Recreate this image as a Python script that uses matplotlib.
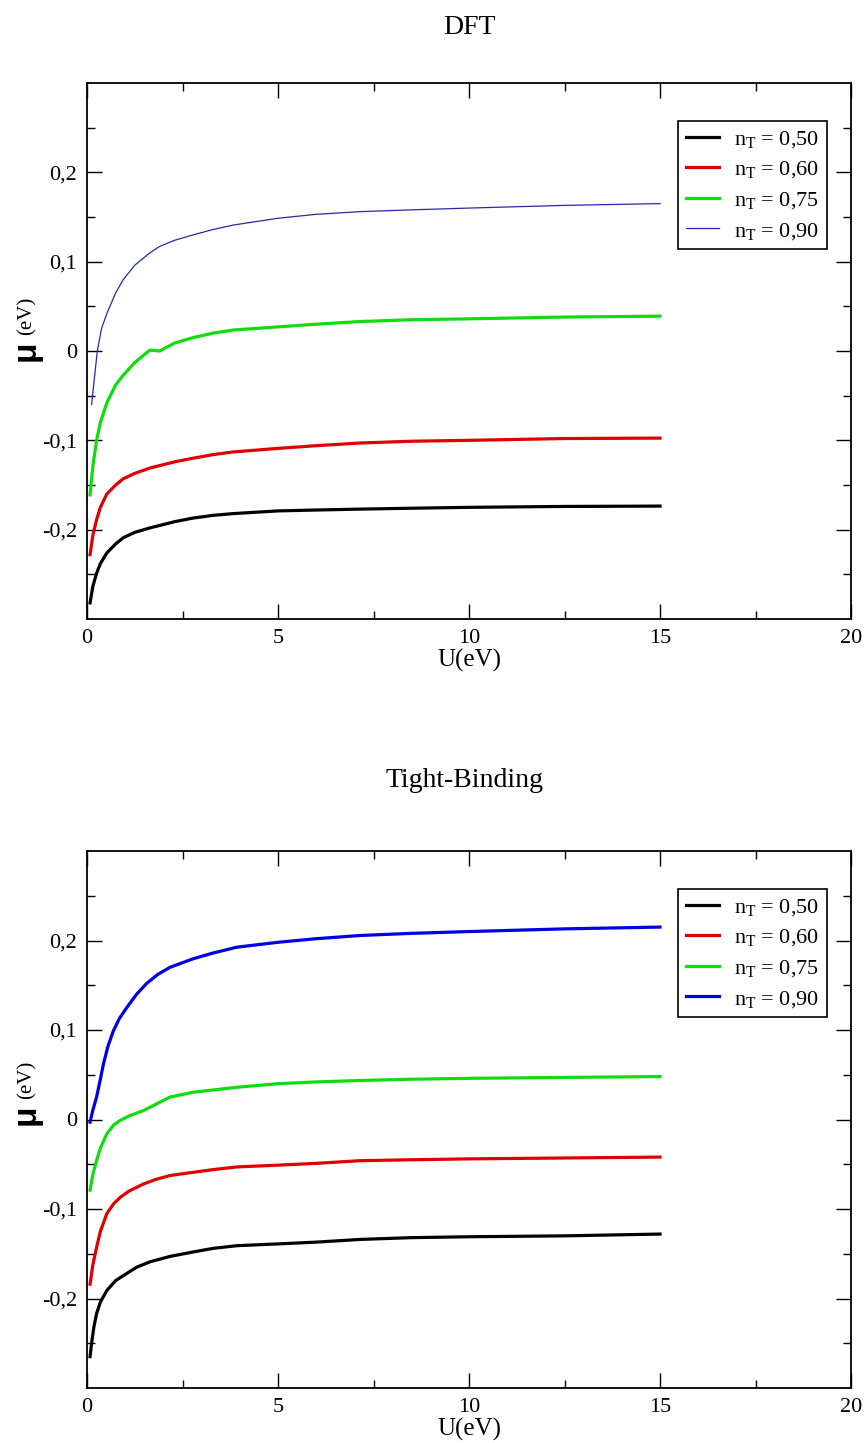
import matplotlib
matplotlib.use("Agg")
import matplotlib.pyplot as plt
from matplotlib.ticker import FixedLocator, FixedFormatter

plt.rcParams['font.family'] = ['Liberation Serif', 'DejaVu Serif']
plt.rcParams['mathtext.fontset'] = 'custom'
plt.rcParams['mathtext.rm'] = 'Liberation Serif'
plt.rcParams['mathtext.it'] = 'Liberation Serif:italic'

# ---------------- data ----------------
legend_labels = ['n$_\\mathrm{T}$ = 0,50', 'n$_\\mathrm{T}$ = 0,60',
                 'n$_\\mathrm{T}$ = 0,75', 'n$_\\mathrm{T}$ = 0,90']

# DFT panel
dft_u_050 = [0.08, 0.15, 0.25, 0.35, 0.52, 0.75, 0.95, 1.25, 1.65, 2.3, 2.78, 3.3, 3.83, 5.0, 6.0, 7.15, 8.5, 10.0, 12.5, 15.0]
dft_mu_050 = [-0.282, -0.264, -0.249, -0.238, -0.226, -0.216, -0.209, -0.203, -0.198, -0.191, -0.187, -0.184, -0.182, -0.179, -0.178, -0.177, -0.176, -0.175, -0.174, -0.1736]
dft_u_060 = [0.08, 0.15, 0.25, 0.35, 0.52, 0.75, 0.95, 1.25, 1.65, 2.3, 2.78, 3.3, 3.83, 5.0, 6.0, 7.15, 8.5, 10.0, 12.5, 15.0]
dft_mu_060 = [-0.228, -0.207, -0.189, -0.175, -0.160, -0.150, -0.143, -0.137, -0.131, -0.124, -0.120, -0.116, -0.113, -0.109, -0.106, -0.103, -0.101, -0.100, -0.098, -0.0975]
dft_u_075 = [0.08, 0.15, 0.25, 0.35, 0.52, 0.75, 0.95, 1.25, 1.5, 1.65, 1.9, 2.3, 2.78, 3.3, 3.83, 5.0, 6.0, 7.15, 8.5, 10.0, 12.5, 15.0]
dft_mu_075 = [-0.161, -0.130, -0.100, -0.080, -0.058, -0.038, -0.027, -0.013, -0.004, 0.001, 0.000, 0.009, 0.015, 0.020, 0.0235, 0.027, 0.030, 0.033, 0.035, 0.036, 0.038, 0.039]
dft_u_090 = [0.12, 0.2, 0.27, 0.38, 0.52, 0.75, 0.95, 1.25, 1.65, 1.9, 2.3, 2.78, 3.3, 3.83, 5.0, 6.0, 7.15, 8.5, 10.0, 12.5, 15.0]
dft_mu_090 = [-0.060, -0.028, 0.000, 0.025, 0.042, 0.065, 0.080, 0.096, 0.110, 0.117, 0.124, 0.130, 0.136, 0.141, 0.1486, 0.153, 0.156, 0.158, 0.160, 0.163, 0.165]

# Tight-Binding panel
tb_u_050 = [0.08, 0.12, 0.18, 0.25, 0.35, 0.52, 0.75, 1.04, 1.3, 1.65, 2.17, 2.78, 3.3, 3.92, 5.0, 6.0, 7.15, 8.5, 10.0, 12.5, 15.0]
tb_mu_050 = [-0.265, -0.250, -0.232, -0.217, -0.204, -0.191, -0.180, -0.172, -0.165, -0.159, -0.153, -0.148, -0.144, -0.141, -0.139, -0.137, -0.134, -0.132, -0.131, -0.130, -0.128]
tb_u_060 = [0.08, 0.15, 0.25, 0.35, 0.52, 0.7, 0.87, 1.1, 1.48, 1.8, 2.17, 2.78, 3.3, 3.92, 5.0, 6.0, 7.15, 8.5, 10.0, 12.5, 15.0]
tb_mu_060 = [-0.184, -0.163, -0.143, -0.125, -0.105, -0.094, -0.087, -0.080, -0.072, -0.067, -0.0626, -0.059, -0.056, -0.053, -0.051, -0.049, -0.046, -0.045, -0.044, -0.043, -0.042]
tb_u_075 = [0.08, 0.15, 0.25, 0.35, 0.52, 0.7, 0.87, 1.1, 1.48, 1.8, 2.17, 2.78, 3.3, 3.92, 5.0, 6.0, 7.15, 8.5, 10.0, 12.5, 15.0]
tb_mu_075 = [-0.079, -0.062, -0.046, -0.032, -0.016, -0.006, -0.001, 0.004, 0.010, 0.017, 0.025, 0.0305, 0.033, 0.036, 0.040, 0.042, 0.0436, 0.045, 0.046, 0.047, 0.048]
tb_u_090 = [0.08, 0.15, 0.25, 0.35, 0.43, 0.55, 0.69, 0.85, 1.04, 1.3, 1.56, 1.85, 2.17, 2.78, 3.3, 3.92, 5.0, 6.0, 7.15, 8.5, 10.0, 12.5, 15.0]
tb_mu_090 = [-0.003, 0.010, 0.025, 0.045, 0.062, 0.082, 0.099, 0.113, 0.125, 0.140, 0.152, 0.162, 0.170, 0.1796, 0.186, 0.1925, 0.198, 0.202, 0.2056, 0.208, 0.210, 0.213, 0.215]

x_major = [0, 5, 10, 15, 20]
x_major_labels = ['0', '5', '10', '15', '20']
x_minor = [2.5, 7.5, 12.5, 17.5]
y_major = [-0.2, -0.1, 0.0, 0.1, 0.2]
y_major_labels = ['-0,2', '-0,1', '0', '0,1', '0,2']
y_minor = [-0.25, -0.15, -0.05, 0.05, 0.15, 0.25]

colors = ['#000000', '#e00000', '#10dd10', '#0000e0']
colors_dft = ['#000000', '#e00000', '#10dd10', '#2a2aa8']
widths_dft = [2.3, 2.3, 2.3, 0.9]
widths_tb = [2.3, 2.3, 2.3, 2.3]

W, H = 868, 1443
fig = plt.figure(figsize=(W / 100, H / 100), dpi=100)

def px_axes(left, top, right, bottom):
    return [left / W, 1 - bottom / H, (right - left) / W, (bottom - top) / H]

def style(ax):
    ax.set_xlim(0, 20)
    ax.set_ylim(-0.3, 0.3)
    ax.xaxis.set_major_locator(FixedLocator(x_major))
    ax.xaxis.set_major_formatter(FixedFormatter(x_major_labels))
    ax.xaxis.set_minor_locator(FixedLocator(x_minor))
    ax.yaxis.set_major_locator(FixedLocator(y_major))
    ax.yaxis.set_major_formatter(FixedFormatter(y_major_labels))
    ax.yaxis.set_minor_locator(FixedLocator(y_minor))
    ax.tick_params(which='both', direction='in', top=True, right=True, width=1.0, colors='black')
    ax.tick_params(which='major', length=11, labelsize=16, pad=7)
    ax.tick_params(which='minor', length=5.5)
    for s in ax.spines.values():
        s.set_linewidth(1.3)
    ax.set_xlabel('U(eV)', fontsize=18, labelpad=1)

def legend(ax, handles):
    leg = ax.legend(handles=handles, loc='upper right', bbox_to_anchor=(0.969, 0.929),
                    borderaxespad=0, fontsize=16, handlelength=1.5, handletextpad=0.7,
                    borderpad=0.35, labelspacing=0.43, fancybox=False, framealpha=1,
                    edgecolor='black')
    leg.get_frame().set_linewidth(1.2)

def ylabel(cy):
    fig.text(26 / W, 1 - cy / H, 'μ', rotation=90, ha='center', va='center',
             fontsize=24, fontweight='bold', family=['Liberation Sans', 'DejaVu Sans'])
    fig.text(27 / W, 1 - (cy - 35) / H, '(eV)', rotation=90, ha='center', va='center',
             fontsize=15)

# top panel
ax1 = fig.add_axes(px_axes(87, 83, 851, 619))
h = []
for u, m, c, lw, lab in zip([dft_u_050, dft_u_060, dft_u_075, dft_u_090],
                            [dft_mu_050, dft_mu_060, dft_mu_075, dft_mu_090],
                            colors_dft, widths_dft, legend_labels):
    h.append(ax1.plot(u, m, color=c, lw=lw, label=lab)[0])
style(ax1)
legend(ax1, h)
fig.text(469 / W, 1 - 34 / H, 'DFT', ha='center', va='baseline', fontsize=20)
ylabel(351)

# bottom panel
ax2 = fig.add_axes(px_axes(87, 851, 851, 1388))
h = []
for u, m, c, lw, lab in zip([tb_u_050, tb_u_060, tb_u_075, tb_u_090],
                            [tb_mu_050, tb_mu_060, tb_mu_075, tb_mu_090],
                            colors, widths_tb, legend_labels):
    h.append(ax2.plot(u, m, color=c, lw=lw, label=lab)[0])
style(ax2)
legend(ax2, h)
fig.text(465 / W, 1 - 787 / H, 'Tight-Binding', ha='center', va='baseline', fontsize=20)
ylabel(1115)

fig.savefig('out.png', dpi=100, facecolor='white')
